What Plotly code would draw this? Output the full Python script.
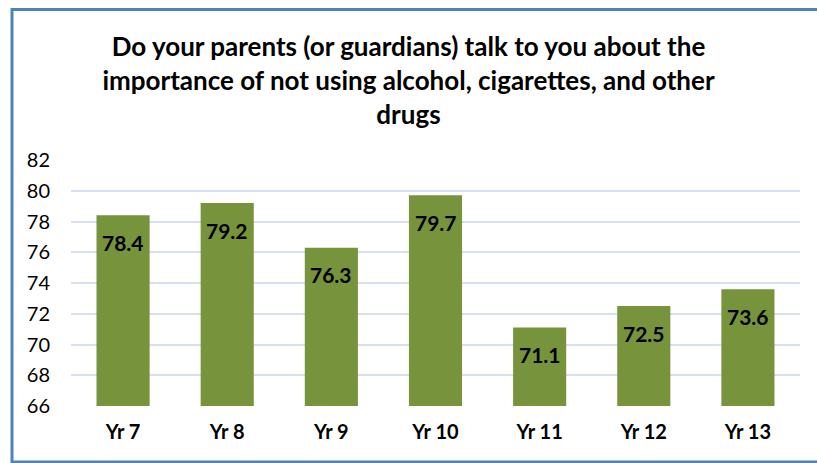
import plotly.graph_objects as go

# Survey results by school year
years = ["Yr 7", "Yr 8", "Yr 9", "Yr 10", "Yr 11", "Yr 12", "Yr 13"]
percent_yes = [78.4, 79.2, 76.3, 79.7, 71.1, 72.5, 73.6]
y_ticks = [66, 68, 70, 72, 74, 76, 78, 80, 82]
y_floor = 66

title_text = ("Do your parents (or guardians) talk to you about the<br>"
              "importance of not using alcohol, cigarettes, and other<br>drugs")

FONT = "Lato, Calibri, Carlito, sans-serif"
BAR = "#77933C"

fig = go.Figure()
fig.add_trace(go.Bar(
    x=years, y=[v - y_floor for v in percent_yes],
    base=y_floor, width=0.51,
    marker=dict(color=BAR, line=dict(width=0)),
    hoverinfo="skip",
))

# value labels inside the top of each bar
for yr, v in zip(years, percent_yes):
    fig.add_annotation(x=yr, y=v, text=f"<b>{v:.1f}</b>", showarrow=False,
                       yshift=-27, font=dict(family=FONT, size=21, color="#000000"))

fig.update_layout(
    width=817, height=463,
    margin=dict(l=71, r=17, t=160, b=57),
    paper_bgcolor="white", plot_bgcolor="white",
    showlegend=False,
    title=dict(text=f"<b>{title_text}</b>", x=0.5, xanchor="center",
               y=(463 - 56) / 463, yanchor="middle",
               font=dict(family=FONT, size=26, color="#000000")),
    font=dict(family=FONT, color="#000000"),
)
fig.update_xaxes(showgrid=False, showline=False, ticks="",
                 tickfont=dict(family=FONT, size=20, color="#000000"),
                 ticklabelstandoff=12, tickprefix="<b>", ticksuffix="</b>")
fig.update_yaxes(range=[66, 82], tickvals=y_ticks, showgrid=True,
                 gridcolor="#D6E0F0", gridwidth=2, zeroline=False, showline=False,
                 tickfont=dict(family=FONT, size=20, color="#000000"),
                 ticklabelstandoff=20)

# blue frame around the chart
fig.add_shape(type="rect", xref="paper", yref="paper",
              x0=(12 - 71) / 729, x1=1.2, y0=(406 - 462) / 246, y1=(406 - 9.5) / 246,
              line=dict(color="#4F81BD", width=3), fillcolor="rgba(0,0,0,0)", layer="above")

fig.write_html("out.html")
